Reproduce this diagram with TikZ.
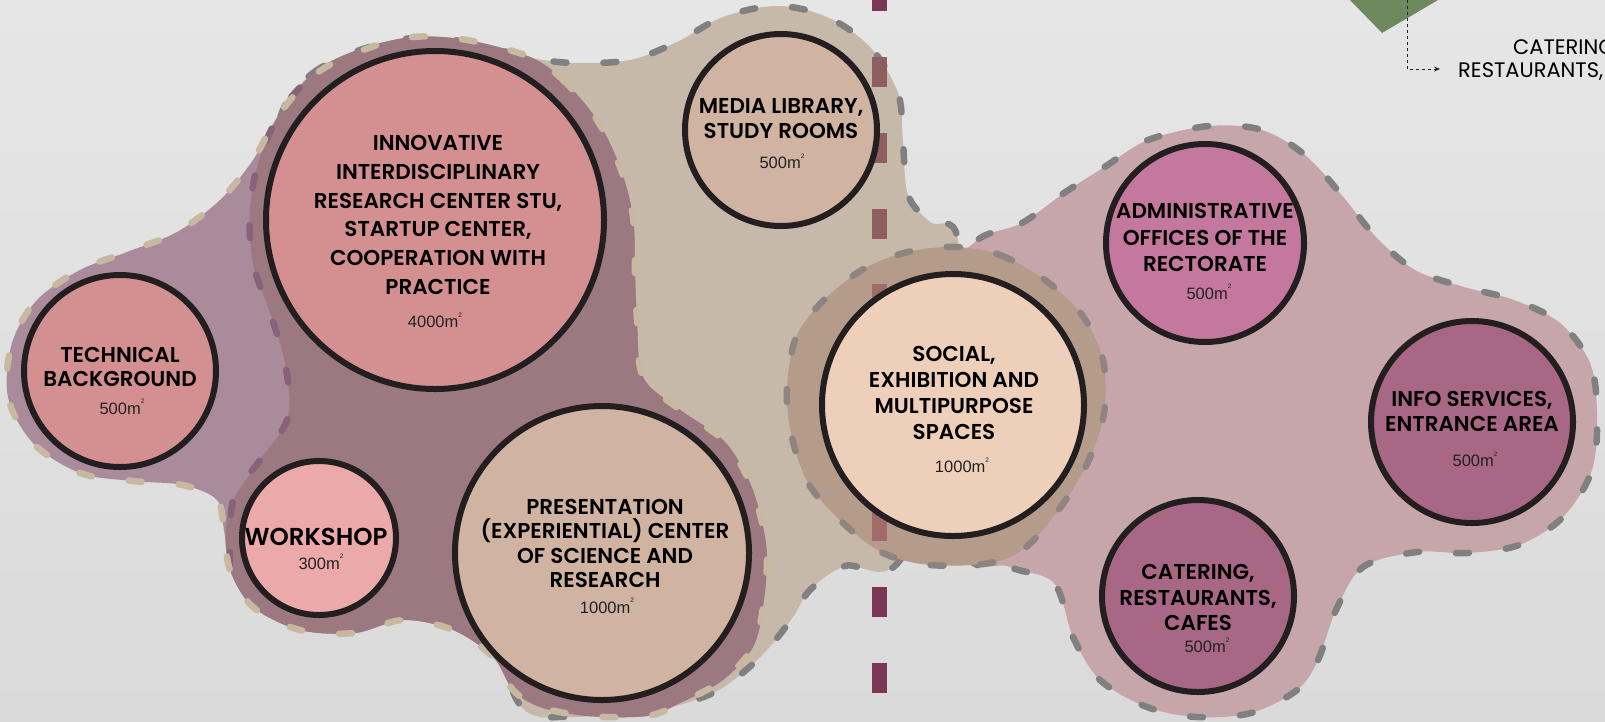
\documentclass[tikz,border=0pt]{standalone}
\usepackage{fontspec}
\newfontfamily\lblfont{Poppins SemiBold}
\newfontfamily\capfont{Poppins}
\newfontfamily\arealfont{Liberation Sans}
\usetikzlibrary{arrows.meta}
\definecolor{bgtop}{HTML}{E6E6E6}
\definecolor{bgbot}{HTML}{DADADA}
\definecolor{outl}{HTML}{231F20}
\definecolor{cVline}{HTML}{7B3657}
\definecolor{cVlineA}{HTML}{8F5E60}
\definecolor{cVlineB}{HTML}{A06B68}
\definecolor{tanB}{HTML}{C7B9A9}
\definecolor{grayD}{HTML}{808080}
\definecolor{pinkB}{HTML}{C6A6AA}
\definecolor{purO}{HTML}{AA8B9C}
\definecolor{purI}{HTML}{9C7881}
\definecolor{tanD}{HTML}{C8B89F}
\definecolor{purD}{HTML}{86637A}
\definecolor{socB}{HTML}{B59B8A}
\definecolor{socD}{HTML}{8E8480}
\definecolor{cPink}{HTML}{D48F91}
\definecolor{cWork}{HTML}{ECA9AA}
\definecolor{cBeige}{HTML}{D0B3A1}
\definecolor{cSoc}{HTML}{EECFB9}
\definecolor{cAdm}{HTML}{C4789E}
\definecolor{cInfo}{HTML}{A86885}
\definecolor{leafgreen}{HTML}{6F895F}
\definecolor{txtgray}{HTML}{222222}
\newcommand\sqm{m\raisebox{0.62em}{\fontsize{6.5}{6.5}\selectfont 2}}
\def\tanpath{plot[smooth cycle, tension=0.55] coordinates {(283,110) (313,73) (360,50) (413,38) (467,42) (527,57) (573,63) (630,60) (677,42) (723,17) (777,6) (827,17) (870,47) (898,93) (903,143) (908,195) (930,222) (958,240) (960,400) (900,560) (845,566) (810,590) (793,617) (767,650) (740,675) (713,693) (670,707) (613,713) (567,717) (520,705) (480,600) (400,450) (300,300) (270,180)}}
\def\pinkpath{plot[smooth cycle, tension=0.55] coordinates {(975,242) (1022,223) (1064,193) (1106,166) (1148,140) (1209,126) (1262,130) (1305,155) (1340,193) (1376,237) (1415,270) (1464,287) (1514,300) (1560,323) (1590,363) (1597,413) (1592,470) (1563,517) (1519,545) (1467,553) (1417,552) (1363,567) (1336,610) (1318,660) (1297,690) (1251,713) (1197,717) (1147,707) (1100,680) (1073,637) (1054,583) (1010,567) (960,540) (940,300)}}
\def\outerpath{plot[smooth cycle, tension=0.55] coordinates {(530,57) (563,80) (597,120) (620,167) (633,217) (635,273) (637,320) (643,377) (679,409) (724,441) (750,483) (763,527) (767,560) (763,607) (753,647) (723,680) (680,703) (647,716) (587,716) (540,707) (513,690) (493,657) (453,630) (403,620) (355,633) (300,630) (253,607) (230,570) (224,530) (217,500) (183,485) (133,481) (80,473) (33,443) (8,397) (12,343) (37,300) (80,270) (127,252) (177,232) (220,200) (253,160) (280,113) (317,73) (363,50) (413,37) (467,40)}}
\def\innerpath{plot[smooth cycle, tension=0.55] coordinates {(530,57) (563,80) (597,120) (620,167) (633,217) (635,273) (637,320) (643,377) (679,409) (724,441) (750,483) (763,527) (767,560) (763,607) (753,647) (723,680) (680,703) (647,716) (587,716) (540,707) (513,690) (493,657) (453,630) (403,620) (355,633) (300,630) (253,607) (230,570) (226,530) (233,500) (260,460) (288,417) (285,363) (270,313) (253,263) (250,210) (260,157) (285,105) (320,68) (363,48) (413,37) (467,40)}}
\def\innerleft{plot[smooth, tension=0.55] coordinates {(230,565) (233,500) (260,460) (288,417) (285,363) (270,313) (253,263) (250,210) (260,157) (285,105) (320,68)}}
\def\socpath{plot[smooth cycle, tension=0.55] coordinates {(957,247) (1000,255) (1045,280) (1082,315) (1103,360) (1104,413) (1088,462) (1060,508) (1025,548) (990,563) (930,565) (883,553) (843,523) (808,483) (791,433) (787,387) (797,335) (827,297) (867,267) (912,251)}}
\begin{document}
\begin{tikzpicture}[x=1pt,y=-1pt,
  blobdash/.style={line width=6.5pt, line cap=round, dash pattern=on 13pt off 37pt},
  vdash/.style={line width=15pt, dash pattern=on 30pt off 45.7pt},
  room/.style={circle, draw=outl, line width=6pt, minimum size=#1, inner sep=0pt},
  ttl/.style={font=\lblfont\fontsize{21.5}{21.5}\selectfont, anchor=base, inner sep=0pt, text=black},
  bigttl/.style={font=\lblfont\fontsize{24.5}{24.5}\selectfont, anchor=base, inner sep=0pt, text=black},
  area/.style={font=\arealfont\fontsize{16.5}{16.5}\selectfont, anchor=base, inner sep=0pt, text=txtgray},
  captxt/.style={font=\capfont\fontsize{21}{21}\selectfont, anchor=base west, inner sep=0pt, text=black}]
\useasboundingbox (0,0) rectangle (1605,721);
\fill[top color=bgtop, bottom color=bgbot] (0,0) rectangle (1605,721);
% vertical dashed divider
\draw[vdash, cVline] (879,-18.6) -- (879,721);
% blobs
\fill[tanB] \tanpath;
\draw[blobdash, grayD] \tanpath;
\fill[pinkB] \pinkpath;
\draw[blobdash, grayD] \pinkpath;
\fill[purO] \outerpath;
\fill[purI] \innerpath;
\draw[blobdash, purD] \innerleft;
\draw[blobdash, tanD] \outerpath;
\fill[socB] \socpath;
\draw[blobdash, socD] \socpath;
% divider seen through blobs
\begin{scope}
\clip (860,40) rectangle (900,250);
\draw[vdash, cVlineA] (879,-18.6) -- (879,721);
\end{scope}
\begin{scope}
\clip (860,250) rectangle (900,562);
\draw[vdash, cVlineB] (879,-18.6) -- (879,721);
\end{scope}
% rooms
\node[room=192pt, fill=cPink] (tb) at (120,371) {};
\node[room=338pt, fill=cPink] (inn) at (435,220) {};
\node[room=154pt, fill=cWork] (ws) at (319,538) {};
\node[room=294pt, fill=cBeige] (pres) at (602,553) {};
\node[room=192pt, fill=cBeige] (med) at (781,130) {};
\node[room=262pt, fill=cSoc] (soc) at (953,405) {};
\node[room=198pt, fill=cAdm] (adm) at (1205,243) {};
\node[room=202pt, fill=cInfo] (info) at (1472,422) {};
\node[room=192pt, fill=cInfo] (cat) at (1198,596) {};
% labels
\node[ttl] (tb1) at (120,362) {TECHNICAL};
\node[ttl] (tb2) at (120,386) {BACKGROUND};
\node[area] (tb3) at (122,414) {500\sqm};
\node[ttl] (in1) at (438,150.5) {INNOVATIVE};
\node[ttl] (in2) at (438,179.3) {INTERDISCIPLINARY};
\node[ttl] (in3) at (438,208.1) {RESEARCH CENTER STU,};
\node[ttl] (in4) at (438,236.9) {STARTUP CENTER,};
\node[ttl] (in5) at (438,265.7) {COOPERATION WITH};
\node[ttl] (in6) at (438,294.5) {PRACTICE};
\node[area] (in7) at (435,327.5) {4000\sqm};
\node[bigttl] (ws1) at (316,545) {WORKSHOP};
\node[area] (ws2) at (321,569) {300\sqm};
\node[ttl] (pr1) at (605,514) {PRESENTATION};
\node[ttl] (pr2) at (605,538.5) {(EXPERIENTIAL) CENTER};
\node[ttl] (pr3) at (605,563) {OF SCIENCE AND};
\node[ttl] (pr4) at (605,587.5) {RESEARCH};
\node[area] (pr5) at (607,613) {1000\sqm};
\node[ttl] (me1) at (781,113.3) {MEDIA LIBRARY,};
\node[ttl] (me2) at (781,138.3) {STUDY ROOMS};
\node[area] (me3) at (782,168.3) {500\sqm};
\node[ttl] (so1) at (954,361.7) {SOCIAL,};
\node[ttl] (so2) at (954,387.5) {EXHIBITION AND};
\node[ttl] (so3) at (954,413.3) {MULTIPURPOSE};
\node[ttl] (so4) at (954,439.1) {SPACES};
\node[area] (so5) at (962,472.7) {1000\sqm};
\node[ttl] (ad1) at (1205,218.7) {ADMINISTRATIVE};
\node[ttl] (ad2) at (1205,245) {OFFICES OF THE};
\node[ttl] (ad3) at (1205,271.7) {RECTORATE};
\node[area] (ad4) at (1209,299) {500\sqm};
\node[ttl] (if1) at (1472,406.7) {INFO SERVICES,};
\node[ttl] (if2) at (1472,431.7) {ENTRANCE AREA};
\node[area] (if3) at (1475,466.7) {500\sqm};
\node[ttl] (ca1) at (1198,579.3) {CATERING,};
\node[ttl] (ca2) at (1198,605) {RESTAURANTS,};
\node[ttl] (ca3) at (1198,630.7) {CAFES};
\node[area] (ca4) at (1207,652.7) {500\sqm};
% top right fragment
\fill[leafgreen] (1350,0) -- (1382,33) -- (1438,0) -- cycle;
\coordinate (arrA) at (1407,0);
\coordinate (arrB) at (1407,69);
\coordinate (arrC) at (1440,69);
\draw[line width=0.9pt, txtgray, dash pattern=on 3pt off 3pt, -{Stealth[length=6pt,width=5pt]}] (arrA) -- (arrB) -- (arrC);
\node[captxt] (tr1) at (1513,54) {CATERING};
\node[captxt] (tr2) at (1458,77) {RESTAURANTS,};
\end{tikzpicture}
\end{document}
